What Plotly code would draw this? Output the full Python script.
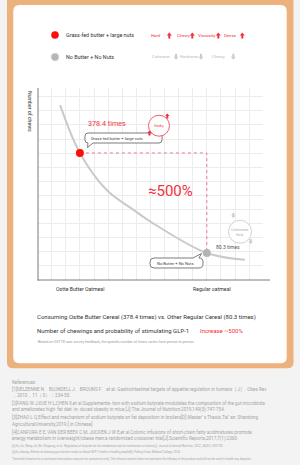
import plotly.graph_objects as go

W, H = 300, 465

# ---------------- data ----------------
categories = ["Ostte Butter Oatmeal", "Regular oatmeal"]
cat_pos = [3, 12]
chews = [378.4, 80.3]
point_labels = ["378.4 times", "80.3 times"]
increase_label = "≈500%"

# decreasing chewing curve
curve_x = [1.6, 3, 4.9, 6.8, 8.0, 12, 14.7]
curve_y = [521, 378.4, 268, 209, 174, 80.3, 60]

legend_names = ["Grass-fed butter + large nuts", "No Butter + No Nuts"]
red_attrs = ["Hard", "Chewy", "Viscosity", "Dense"]
gray_attrs = ["Cohesion", "Hardness", "Chewy"]

summary_1 = "Consuming Ostte Butter Cereal (378.4 times) vs. Other Regular Cereal (80.3 times)"
summary_2 = "Number of chewings and probability of stimulating GLP-1"
summary_red = "Increase ~500%"
footnote = "•Based on OSTTE user survey feedback, the specific number of times varies from person to person"

references = [
    "References:",
    "[1]DELZENNE N、BLUNDELL J、BROUNS F、et al. Gastrointestinal targets of appetite regulation in humans［J］. Obes Rev",
    "，2010，11（3）：234-50.",
    "[2]FANG W J,XUE H L,CHEN X,et al.Supplementa- tion with sodium butyrate modulates the composition of the gut microbiota",
    "and ameliorates high- fat diet- in- duced obesity in mice [J].The Journal of Nutrition,2019,149(5):747-754.",
    "[3]ZHAO L Q.Effect and mechanism of sodium butyrate on fat deposition in broilers[D].Master’ s Thesis.Tai’ an: Shandong",
    "AgriculturalUniversity,2019.[ in Chinese]",
    "[4]CANFORA E E, VAN DER BEEK C M, JOCKEN J W E,et al.Colonic infusions of short-chain fatty acidmixtures promote",
    "energy metabolism in overweight/obese men:a randomized crossover trial[J].Scientific Reports,2017,7(1):2360.",
]
references_small = [
    "[5] Xu Jin, Wang Jie, Wu Zhigaung, et al.. Regulation of butyrate on fat metabolism and its mechanism of action[J]. Journal of Animal Nutrition, 2022, 34(02): 690-700.",
    "[6]Xu Jiatong. Effects of chewing gum before meals on blood GLP-1 levels in healthy people[D]. Peking Union Medical College, 2014",
    "*Scientific literature is a nutritional information resource for consumers only. The relevant content does not represent the efficacy of the product and will not be used in health any disputes",
]

# ---------------- helpers ----------------
def X(px):
    return px / W

def Y(py):
    return 1 - py / H

def P(px, py):
    return f"{X(px):.5f},{Y(py):.5f}"

def rrect(x0, y0, x1, y1, r):
    return (f"M{P(x0+r,y0)} L{P(x1-r,y0)} Q{P(x1,y0)} {P(x1,y0+r)} "
            f"L{P(x1,y1-r)} Q{P(x1,y1)} {P(x1-r,y1)} L{P(x0+r,y1)} "
            f"Q{P(x0,y1)} {P(x0,y1-r)} L{P(x0,y0+r)} Q{P(x0,y0)} {P(x0+r,y0)} Z")

def arrow(cx, cy, color, up=True, h=6.0, w=5.0):
    s = -1 if up else 1
    hh = h / 2
    pts = [(cx, cy + s * hh), (cx + w / 2, cy), (cx + 1, cy), (cx + 1, cy - s * hh),
           (cx - 1, cy - s * hh), (cx - 1, cy), (cx - w / 2, cy)]
    path = "M" + " L".join(P(a, b) for a, b in pts) + " Z"
    return dict(type="path", xref="paper", yref="paper", path=path,
                fillcolor=color, line=dict(width=0), layer="above")

def circle(cx, cy, r, fill, line_color=None, lw=0):
    return dict(type="circle", xref="paper", yref="paper",
                x0=X(cx - r), x1=X(cx + r), y0=Y(cy + r), y1=Y(cy - r),
                fillcolor=fill, line=dict(color=line_color or fill, width=lw), layer="above")

FONT = "Roboto"
RED = "#f3303c"
DARK = "#333333"

def txt(s, px, py, size, color=DARK, xanchor="left", angle=0):
    return dict(text=s, x=X(px), y=Y(py), xref="paper", yref="paper",
                xanchor=xanchor, yanchor="middle", showarrow=False,
                textangle=angle, borderpad=0,
                font=dict(family=FONT, size=size, color=color))

# ---------------- figure ----------------
fig = go.Figure()

# curve
fig.add_trace(go.Scatter(x=curve_x, y=curve_y, mode="lines",
                         line=dict(color="#cacaca", width=2, shape="spline", smoothing=1.0),
                         hoverinfo="skip", showlegend=False))
# dashed connector
fig.add_trace(go.Scatter(x=[cat_pos[0], cat_pos[1], cat_pos[1]],
                         y=[chews[0], chews[0], chews[1]], mode="lines",
                         line=dict(color="#f07a8c", width=1, dash="dot"),
                         hoverinfo="skip", showlegend=False))
# points
fig.add_trace(go.Scatter(x=cat_pos, y=chews, mode="markers",
                         marker=dict(color=["#ff0d0d", "#b3b3b3"], size=8, line=dict(width=0)),
                         showlegend=False))

shapes = []
# background frame and card
shapes.append(dict(type="path", xref="paper", yref="paper", path=rrect(7, -10, 293.5, 368.3, 6),
                   fillcolor="#edb17e", line=dict(width=0), layer="below"))
shapes.append(dict(type="path", xref="paper", yref="paper", path=rrect(13.3, 5, 286.7, 363.3, 6),
                   fillcolor="#ffffff", line=dict(width=0), layer="below"))
# axis lines
shapes.append(dict(type="line", xref="paper", yref="paper", x0=X(38), x1=X(38), y0=Y(88), y1=Y(280.5),
                   line=dict(color="#7a7a7a", width=1), layer="above"))
shapes.append(dict(type="line", xref="paper", yref="paper", x0=X(37.5), x1=X(270), y0=Y(280), y1=Y(280),
                   line=dict(color="#7a7a7a", width=1), layer="above"))

# legend dots
shapes.append(circle(55, 35, 3.8, "#ff0d0d"))
shapes.append(circle(55, 57, 3.8, "#b5b5b5", "#d0d0d0", 0.8))

# legend arrows
for ax_ in [169.3, 192.3, 218.3, 242.3]:
    shapes.append(arrow(ax_, 35.5, "#f0303a", up=True))
for ax_ in [176, 201, 233.3]:
    shapes.append(arrow(ax_, 56.7, "#cccccc", up=False))

# callout 1 (Grass-fed) with tail bottom-left
x0, y0, x1, y1, r = 85, 133, 162, 143, 3
p1 = (f"M{P(x0+r,y0)} L{P(x1-r,y0)} Q{P(x1,y0)} {P(x1,y0+r)} L{P(x1,y1-r)} Q{P(x1,y1)} {P(x1-r,y1)} "
      f"L{P(93,y1)} L{P(87.5,147.5)} L{P(88,y1)} Q{P(x0,y1)} {P(x0,y1-r)} L{P(x0,y0+r)} Q{P(x0,y0)} {P(x0+r,y0)} Z")
shapes.append(dict(type="path", xref="paper", yref="paper", path=p1, fillcolor="white",
                   line=dict(color="#5a5a5a", width=0.8), layer="above"))
# callout 2 (No Butter) with tail top-right
x0, y0, x1, y1, r = 150, 258, 203, 268, 4
p2 = (f"M{P(x0+r,y0)} L{P(193,y0)} L{P(201.5,253.5)} L{P(199,y0)} Q{P(x1,y0)} {P(x1,y0+r)} "
      f"L{P(x1,y1-r)} Q{P(x1,y1)} {P(x1-r,y1)} L{P(x0+r,y1)} Q{P(x0,y1)} {P(x0,y1-r)} "
      f"L{P(x0,y0+r)} Q{P(x0,y0)} {P(x0+r,y0)} Z")
shapes.append(dict(type="path", xref="paper", yref="paper", path=p2, fillcolor="white",
                   line=dict(color="#5a5a5a", width=0.8), layer="above"))

# sticky circle (red) and gray circle
shapes.append(circle(159, 125.7, 10.5, "white", "#f0606e", 1))
shapes.append(arrow(167.3, 116, "#f0303a", up=True, h=5, w=4.5))
shapes.append(arrow(149.5, 133, "#f0303a", up=True, h=5, w=4.5))
shapes.append(circle(240, 231.7, 11.5, "white", "#d2d2d2", 1))
shapes.append(arrow(233.3, 215.5, "#cccccc", up=False, h=5, w=4.5))
shapes.append(arrow(250.7, 241.5, "#cccccc", up=False, h=5, w=4.5))

ann = []
# legend text
ann.append(txt(legend_names[0], 65, 35, 5.4))
ann.append(txt(legend_names[1], 65, 57, 5.4))
for s, px in zip(red_attrs, [150, 175.7, 197, 222.7]):
    ann.append(txt(s, px, 35.5, 4.3, "#f0303a"))
for s, px in zip(gray_attrs, [151, 179, 210.7]):
    ann.append(txt(s, px, 56.7, 4.3, "#b8b8b8"))

# axis title + category labels
ann.append(txt("Number of chews", 29.5, 111.5, 5.2, DARK, xanchor="center", angle=90))
for s, xv, sh in zip(categories, cat_pos, [0, 5]):
    ann.append(dict(text=s, x=xv, y=Y(288.5), xref="x", yref="paper", xanchor="center",
                    yanchor="middle", showarrow=False, xshift=sh,
                    font=dict(family=FONT, size=5.2, color=DARK)))

# chart texts
ann.append(txt(point_labels[0], 87, 124, 7.2, RED))
ann.append(txt(point_labels[1], 215, 247, 5, "#555555"))
ann.append(txt(increase_label, 170.5, 191, 15, RED, xanchor="center"))
ann.append(txt(legend_names[0], 90, 138, 4.1, "#444444"))
ann.append(txt(legend_names[1], 156, 263, 4.1, "#444444"))
ann.append(txt("Sticky", 159, 125.7, 3.6, "#f0303a", xanchor="center"))
ann.append(txt("Cohesiveness", 240, 229.5, 2.8, "#b0b0b0", xanchor="center"))
ann.append(txt("Hardy", 240, 234.5, 2.8, "#b0b0b0", xanchor="center"))

# summary
ann.append(txt(summary_1, 36, 316.7, 6.0))
ann.append(txt(summary_2, 36, 330, 6.0))
ann.append(txt(summary_red, 199, 330, 6.0, RED))
ann.append(txt(footnote, 36, 342, 3.6, "#9a9a9a"))

# references
ref_y = [381.7, 389, 395.7, 403.3, 409.5, 416.7, 424, 431.7, 438.7]
for s, yy in zip(references, ref_y):
    ann.append(txt(s, 11, yy, 4.6, "#a5a5a5"))
for s, yy in zip(references_small, [446, 451.5, 458.7]):
    ann.append(txt(s, 11, yy, 2.9, "#a5a5a5"))

fig.update_layout(
    width=W, height=H, margin=dict(l=0, r=0, t=0, b=0),
    paper_bgcolor="#f3f3f3", plot_bgcolor="rgba(0,0,0,0)",
    showlegend=False, shapes=shapes, annotations=ann,
    xaxis=dict(domain=[X(37.6), X(263.2)], range=[0, 16], tick0=0, dtick=1,
               showgrid=True, gridcolor="#ececec", gridwidth=1, zeroline=False,
               showticklabels=False, showline=False, fixedrange=True),
    yaxis=dict(domain=[Y(280), Y(88)], range=[0, 572], tick0=0, dtick=42.0,
               showgrid=True, gridcolor="#ececec", gridwidth=1, zeroline=False,
               showticklabels=False, showline=False, fixedrange=True),
    font=dict(family=FONT),
)

fig.write_html("out.html")
